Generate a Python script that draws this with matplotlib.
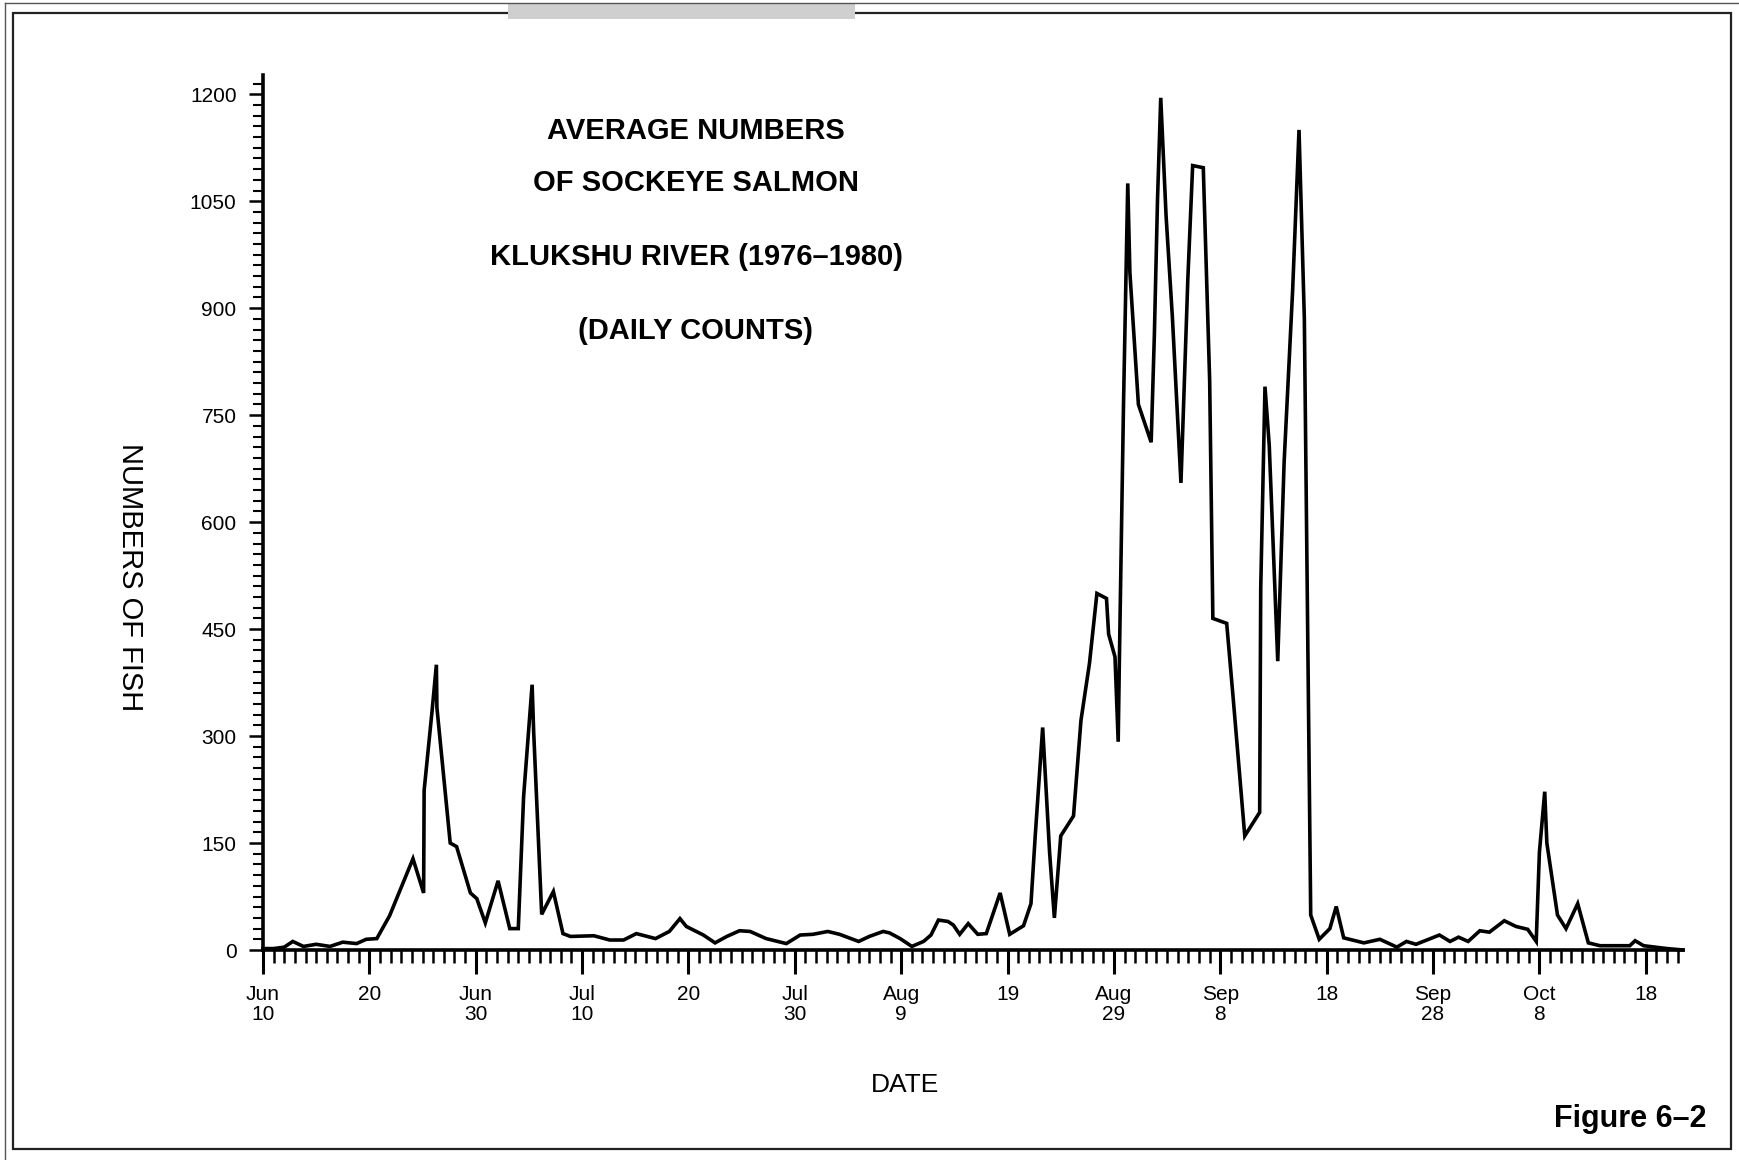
import numpy as np
import matplotlib
matplotlib.use("Agg")
import matplotlib.pyplot as plt
from matplotlib.lines import Line2D
from matplotlib.patches import Rectangle

plt.rcParams['font.family'] = ['Liberation Sans', 'DejaVu Sans']

# days after June 10 and average daily counts
days = [0, 1, 2, 2.8, 3.8, 5, 6.3, 7.5, 8.8, 9.7, 10.7, 11.9, 14.1, 15.1, 15.15,
        15.5, 15.9, 16.3, 16.35, 17.6, 18.2, 19.5, 20.1, 20.9, 22.1, 23.2, 24.0,
        24.5, 25.3, 25.45, 26.2, 27.3, 28.2, 28.9, 31.1, 32.6, 33.9, 35.1, 36.9,
        38.2, 39.2, 39.8, 41.4, 42.5, 43.6, 44.8, 45.8, 47.3, 49.2, 50.5, 51.7,
        53.1, 54.2, 56.0, 57.0, 58.3, 58.9, 59.9, 61.0, 62.1, 62.8, 63.5, 64.4,
        64.9, 65.5, 66.3, 67.2, 68.0, 69.3, 70.2, 71.5, 72.2, 72.6, 73.3, 73.95,
        74.4, 75.0, 76.2, 76.9, 77.7, 78.4, 79.3, 79.5, 80.1, 80.4, 80.5, 80.9,
        81.3, 81.5, 82.3, 83.5, 83.8, 84.1, 84.4, 84.9, 85.5, 86.3, 86.95, 87.4,
        88.4, 89.0, 89.3, 90.6, 91.2, 92.3, 93.7, 93.8, 94.2, 94.6, 95.4, 96.0,
        96.8, 97.4, 97.9, 98.5, 99.3, 100.3, 100.9, 101.6, 103.5, 105.0, 106.6,
        107.5, 108.4, 110.6, 111.6, 112.4, 113.3, 114.4, 115.3, 116.7, 117.8,
        118.9, 119.7, 120.0, 120.5, 120.7, 121.7, 122.5, 123.6, 124.6, 125.7,
        128.5, 129.0, 129.8, 132.0, 133.5]
fish = [2, 2, 4, 12, 5, 8, 5, 11, 9, 15, 16, 48, 128, 80, 224,
        276, 336, 400, 340, 150, 145, 80, 72, 38, 97, 30, 30,
        215, 372, 305, 50, 82, 23, 19, 20, 14, 14, 23, 16,
        26, 44, 33, 21, 10, 19, 27, 26, 16, 9, 21, 22,
        26, 22, 12, 19, 26, 24, 16, 5, 12, 21, 42, 40,
        35, 22, 37, 22, 23, 80, 22, 34, 65, 160, 312, 137,
        45, 160, 188, 322, 402, 500, 493, 443, 411, 292, 395, 765,
        1075, 950, 765, 712, 862, 1054, 1195, 1030, 886, 655, 942, 1100,
        1097, 798, 465, 458, 355, 160, 193, 507, 790, 708, 405, 684,
        925, 1150, 886, 49, 15, 30, 61, 17, 10, 15, 4,
        12, 8, 21, 12, 18, 12, 27, 25, 41, 33,
        29, 12, 137, 222, 150, 49, 30, 65, 10, 6,
        6, 13, 6, 2, 0]

tick_days = list(range(0, 131, 10))
tick_labels = ["Jun\n10", "20", "Jun\n30", "Jul\n10", "20", "Jul\n30", "Aug\n9",
               "19", "Aug\n29", "Sep\n8", "18", "Sep\n28", "Oct\n8", "18"]
y_ticks = list(range(0, 1201, 150))

title_lines = ["AVERAGE NUMBERS", "OF SOCKEYE SALMON",
               "KLUKSHU RIVER (1976\u20131980)", "(DAILY COUNTS)"]

W, H = 1740, 1160
fig = plt.figure(figsize=(17.4, 11.6), dpi=100)
ax = fig.add_axes([263 / W, 1 - 950 / H, (1683 - 263) / W, (950 - 75) / H])

ax.plot(days, fish, color='black', lw=2.6, solid_joinstyle='miter', clip_on=False)

ax.set_xlim(0, 133.5)
ax.set_ylim(0, 1227)
for s in ['top', 'right']:
    ax.spines[s].set_visible(False)
ax.spines['bottom'].set_linewidth(2.6)
ax.spines['left'].set_linewidth(2.6)

ax.set_xticks(tick_days)
ax.set_xticklabels(tick_labels, fontsize=15, linespacing=1.1)
ax.set_xticks(np.arange(0, 134, 1), minor=True)
ax.tick_params(axis='x', which='major', length=17, width=2.2, direction='out', pad=8)
ax.tick_params(axis='x', which='minor', length=9, width=1.8, direction='out')

ax.set_yticks(y_ticks)
ax.set_yticklabels([str(v) for v in y_ticks], fontsize=15)
ax.set_yticks(np.arange(0, 1227, 15), minor=True)
ax.tick_params(axis='y', which='major', length=10, width=1.8, direction='out', pad=9)
ax.tick_params(axis='y', which='minor', length=7, width=1.5, direction='out')

# title block inside the plot
for txt, yp in zip(title_lines, [131, 183, 257, 331]):
    fig.text(696 / W, 1 - yp / H, txt, ha='center', va='center',
             fontsize=21, fontweight='bold')

fig.text(130 / W, 1 - 577 / H, "NUMBERS OF FISH", rotation=270,
         ha='center', va='center', fontsize=21)
fig.text(905 / W, 1 - 1085 / H, "DATE", ha='center', va='center', fontsize=19)
fig.text(1707 / W, 1 - 1119 / H, "Figure 6\u20132", ha='right', va='center',
         fontsize=22, fontweight='bold')

# scanned page frame
fig.add_artist(Rectangle((13 / W, 1 - 1149 / H), (1731 - 13) / W, (1149 - 13) / H,
                         fill=False, lw=1.6, edgecolor='#222222',
                         transform=fig.transFigure))
fig.add_artist(Line2D([5 / W, 5 / W], [0, 1 - 3 / H], lw=1.0, color='#555555',
                      transform=fig.transFigure))
fig.add_artist(Line2D([5 / W, 1], [1 - 3 / H, 1 - 3 / H], lw=1.0, color='#555555',
                      transform=fig.transFigure))
fig.add_artist(Rectangle((508 / W, 1 - 19 / H), (855 - 508) / W, 15 / H,
                         color='#cfcfcf', lw=0, transform=fig.transFigure))

fig.savefig("out.png", dpi=100, facecolor='white')
